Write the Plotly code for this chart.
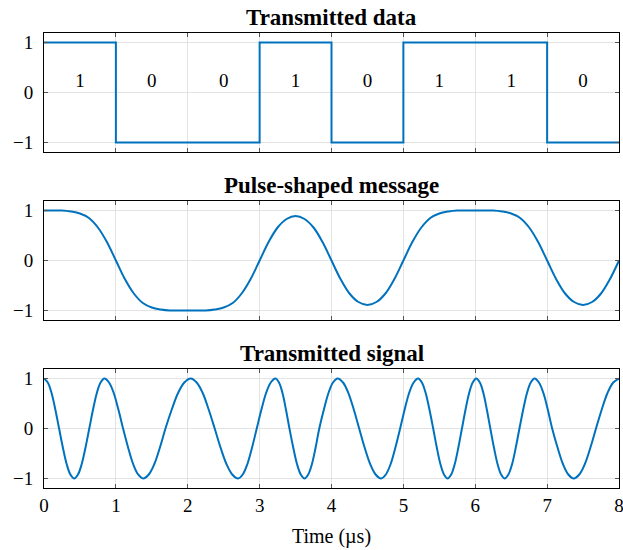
import plotly.graph_objects as go

# ---------------- data ----------------
bits = [1, 0, 0, 1, 0, 1, 1, 0]
bit_times = [0, 1, 2, 3, 4, 5, 6, 7, 8]

msg_t = [0.0, 0.125, 0.25, 0.375, 0.5, 0.625, 0.75, 0.875,
         1.0, 1.125, 1.25, 1.375, 1.5, 1.625, 1.75, 1.875,
         2.0, 2.125, 2.25, 2.375, 2.5, 2.625, 2.75, 2.875,
         3.0, 3.125, 3.25, 3.375, 3.5, 3.625, 3.75, 3.875,
         4.0, 4.125, 4.25, 4.375, 4.5, 4.625, 4.75, 4.875,
         5.0, 5.125, 5.25, 5.375, 5.5, 5.625, 5.75, 5.875,
         6.0, 6.125, 6.25, 6.375, 6.5, 6.625, 6.75, 6.875,
         7.0, 7.125, 7.25, 7.375, 7.5, 7.625, 7.75, 7.875, 8.0]
msg_y = [1.00, 1.00, 1.00, 0.98, 0.94, 0.85, 0.66, 0.37,
         0.00, -0.37, -0.66, -0.85, -0.94, -0.98, -1.00, -1.00,
         -1.00, -1.00, -1.00, -0.98, -0.94, -0.85, -0.66, -0.37,
         0.00, 0.37, 0.66, 0.83, 0.89, 0.83, 0.66, 0.37,
         0.00, -0.37, -0.66, -0.83, -0.89, -0.83, -0.66, -0.37,
         0.00, 0.37, 0.66, 0.85, 0.94, 0.98, 1.00, 1.00,
         1.00, 1.00, 1.00, 0.98, 0.94, 0.85, 0.66, 0.37,
         0.00, -0.37, -0.66, -0.83, -0.89, -0.83, -0.66, -0.37, 0.00]

sig_t = [0.000, 0.0525, 0.105, 0.1575, 0.210, 0.2625, 0.315, 0.3675,
         0.420, 0.4725, 0.525, 0.5775, 0.630, 0.6825, 0.735, 0.7875,
         0.840, 0.905, 0.970, 1.035, 1.100, 1.170, 1.240, 1.310,
         1.380, 1.4575, 1.535, 1.6125, 1.690, 1.7775, 1.865, 1.9525,
         2.040, 2.124, 2.208, 2.291, 2.375, 2.456, 2.538, 2.619,
         2.700, 2.765, 2.830, 2.895, 2.960, 3.025, 3.090, 3.155,
         3.220, 3.269, 3.318, 3.366, 3.415, 3.4675, 3.520, 3.5725,
         3.625, 3.676, 3.728, 3.779, 3.830, 3.894, 3.958, 4.021,
         4.085, 4.160, 4.235, 4.310, 4.385, 4.461, 4.538, 4.614,
         4.690, 4.756, 4.823, 4.889, 4.955, 5.018, 5.080, 5.143,
         5.205, 5.2575, 5.310, 5.3625, 5.415, 5.465, 5.515, 5.565,
         5.615, 5.665, 5.715, 5.765, 5.815, 5.865, 5.915, 5.965,
         6.015, 6.064, 6.113, 6.161, 6.210, 6.260, 6.310, 6.360,
         6.410, 6.461, 6.513, 6.564, 6.615, 6.6675, 6.720, 6.7725,
         6.825, 6.886, 6.948, 7.009, 7.070, 7.145, 7.220, 7.295,
         7.370, 7.4475, 7.525, 7.6025, 7.680, 7.760, 7.840, 7.920,
         8.000]
sig_y = [1, 0.92, 0.71, 0.38, 0, -0.38, -0.71, -0.92, -1, -0.92, -0.71, -0.38, 0, 0.38, 0.71, 0.92,
         1, 0.92, 0.71, 0.38, 0, -0.38, -0.71, -0.92, -1, -0.92, -0.71, -0.38, 0, 0.38, 0.71, 0.92,
         1, 0.92, 0.71, 0.38, 0, -0.38, -0.71, -0.92, -1, -0.92, -0.71, -0.38, 0, 0.38, 0.71, 0.92,
         1, 0.92, 0.71, 0.38, 0, -0.38, -0.71, -0.92, -1, -0.92, -0.71, -0.38, 0, 0.38, 0.71, 0.92,
         1, 0.92, 0.71, 0.38, 0, -0.38, -0.71, -0.92, -1, -0.92, -0.71, -0.38, 0, 0.38, 0.71, 0.92,
         1, 0.92, 0.71, 0.38, 0, -0.38, -0.71, -0.92, -1, -0.92, -0.71, -0.38, 0, 0.38, 0.71, 0.92,
         1, 0.92, 0.71, 0.38, 0, -0.38, -0.71, -0.92, -1, -0.92, -0.71, -0.38, 0, 0.38, 0.71, 0.92,
         1, 0.92, 0.71, 0.38, 0, -0.38, -0.71, -0.92, -1, -0.92, -0.71, -0.38, 0, 0.38, 0.71, 0.92,
         1]

titles = ["Transmitted data", "Pulse-shaped message", "Transmitted signal"]
x_ticks = [0, 1, 2, 3, 4, 5, 6, 7, 8]
y_ticks = [-1, 0, 1]
y_ticktext = ["\u22121", "0", "1"]
x_label = "Time (\u00b5s)"

# ---------------- styling ----------------
BLUE = "#0072BD"
FONT = "Liberation Serif"
GRID = "#e3e3e3"

levels = [1 if b else -1 for b in bits]
data_y = levels + [levels[-1]]

fig = go.Figure()
fig.add_trace(go.Scatter(x=bit_times, y=data_y, mode="lines", line=dict(color=BLUE, width=2, shape="hv"),
                         xaxis="x", yaxis="y", showlegend=False))
fig.add_trace(go.Scatter(x=[t + 0.5 for t in bit_times[:-1]], y=[0.2] * len(bits), mode="text",
                         text=[str(b) for b in bits], textfont=dict(family=FONT, size=19, color="black"),
                         xaxis="x", yaxis="y", showlegend=False))
fig.add_trace(go.Scatter(x=msg_t, y=msg_y, mode="lines",
                         line=dict(color=BLUE, width=2, shape="spline", smoothing=1, simplify=False),
                         xaxis="x2", yaxis="y2", showlegend=False))
fig.add_trace(go.Scatter(x=sig_t, y=sig_y, mode="lines",
                         line=dict(color=BLUE, width=2, shape="spline", smoothing=1, simplify=False),
                         xaxis="x3", yaxis="y3", showlegend=False))

domains = [[0.7385, 1.0], [0.3692, 0.6308], [0.0, 0.2615]]

common_x = dict(range=[0, 8], tickvals=x_ticks, ticktext=[str(v) for v in x_ticks],
                ticks="inside", ticklen=4, tickcolor="#555",
                showline=True, linecolor="black", linewidth=1, mirror="allticks",
                showgrid=True, gridcolor=GRID, gridwidth=1, zeroline=False,
                ticklabeloverflow="allow", automargin=False,
                tickfont=dict(family=FONT, size=19, color="black"))
common_y = dict(range=[-1.19, 1.19], tickvals=y_ticks, ticktext=y_ticktext, ticks="inside", ticklen=4,
                tickcolor="#555", showline=True, linecolor="black", linewidth=1, mirror="allticks",
                showgrid=True, gridcolor=GRID, gridwidth=1, zeroline=False,
                ticklabelstandoff=6, automargin=False,
                tickfont=dict(family=FONT, size=19, color="black"))

layout = dict(
    width=623, height=550,
    margin=dict(l=44, r=4, t=33, b=62),
    paper_bgcolor="white", plot_bgcolor="white",
    showlegend=False,
)
for i in range(3):
    sx = "" if i == 0 else str(i + 1)
    xa = dict(common_x, anchor="y" + sx, domain=[0, 1])
    if i < 2:
        xa["showticklabels"] = False
    else:
        xa["title"] = dict(text=x_label, font=dict(family=FONT, size=20, color="black"), standoff=14)
    ya = dict(common_y, anchor="x" + sx, domain=domains[i])
    layout["xaxis" + sx] = xa
    layout["yaxis" + sx] = ya

annotations = []
for i, t in enumerate(titles):
    annotations.append(dict(text="<b>" + t + "</b>", x=0.5, xref="paper", y=domains[i][1], yref="paper",
                            xanchor="center", yanchor="bottom", yshift=1, showarrow=False,
                            font=dict(family=FONT, size=23, color="black")))
layout["annotations"] = annotations

fig.update_layout(**layout)
fig.write_html("out.html")
